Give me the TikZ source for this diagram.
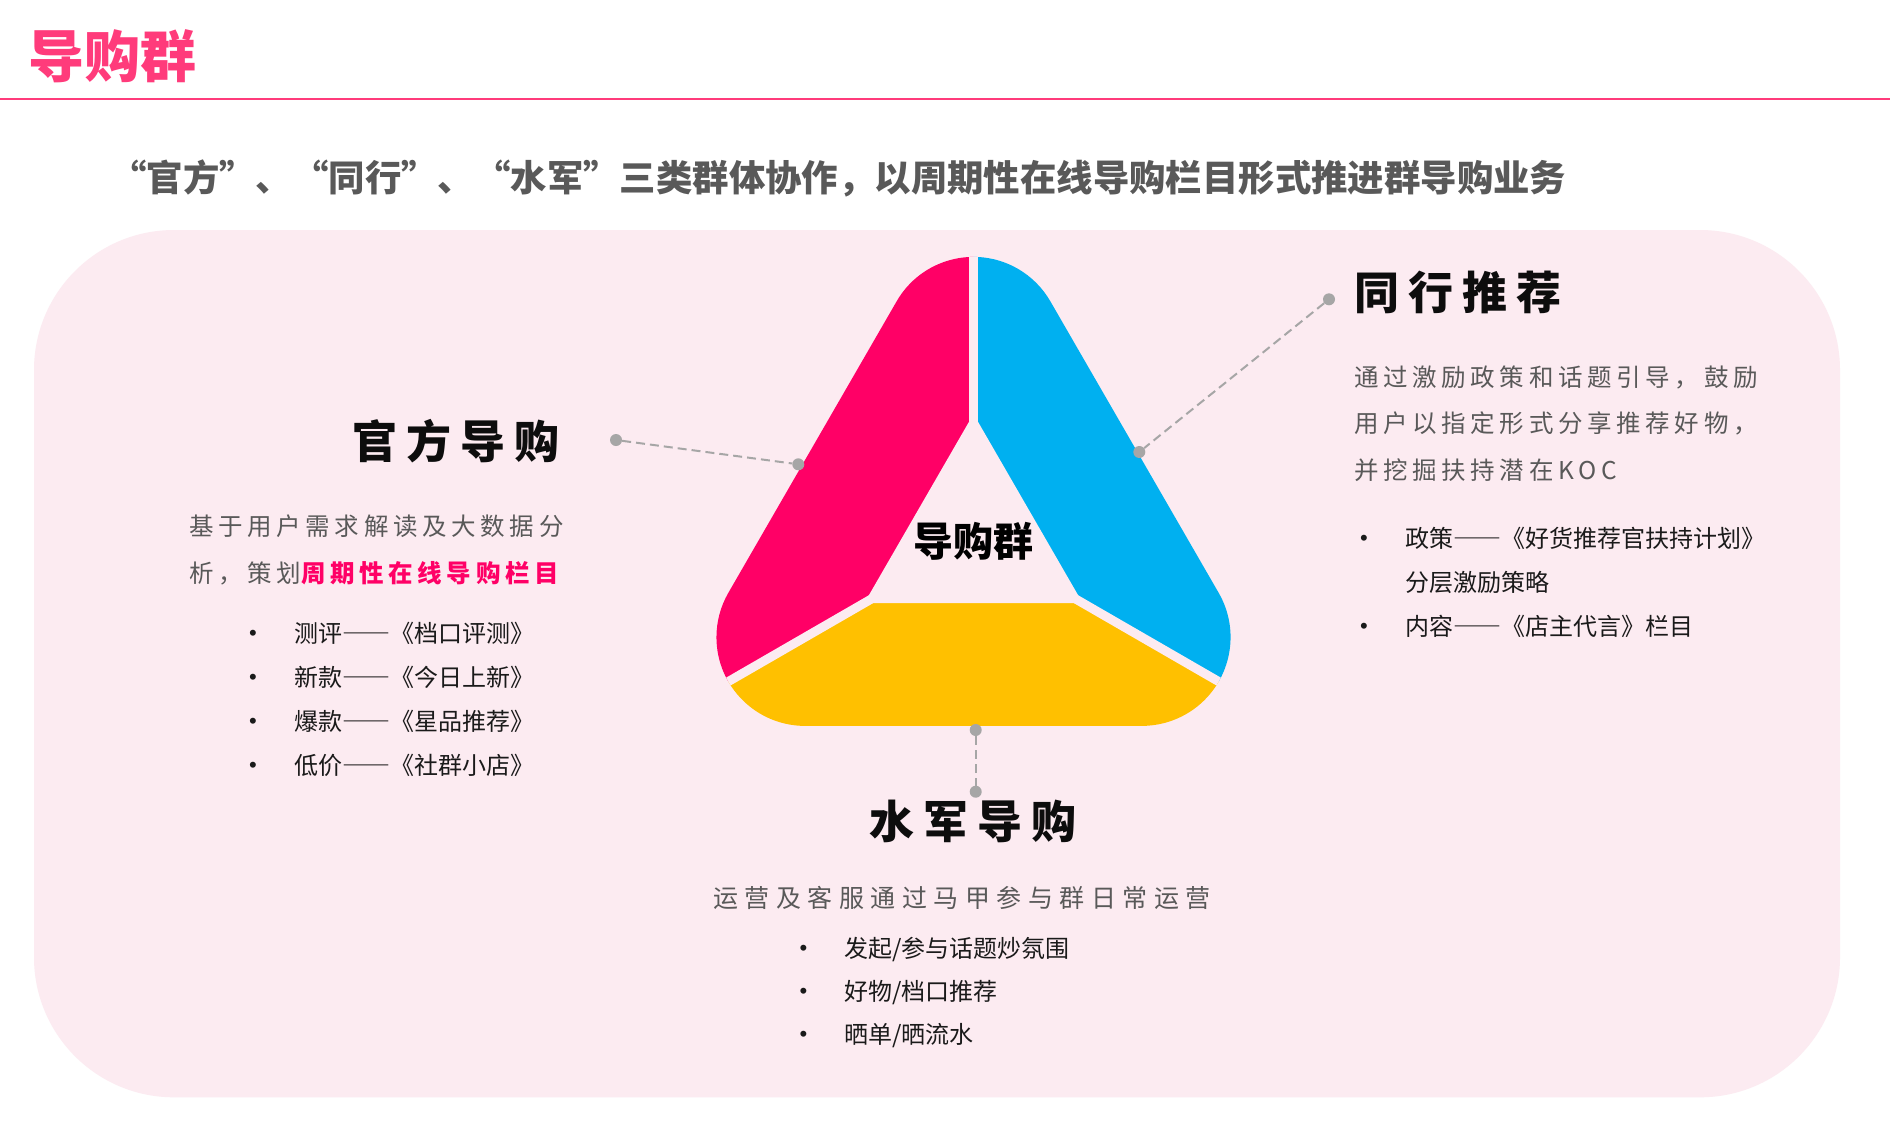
\documentclass[tikz,border=0pt]{standalone}
\usepackage{fontspec}
\setmainfont{Noto Sans CJK SC}
\newfontfamily\spacedfont[LetterSpace=19]{Noto Sans CJK SC}
\newfontfamily\widefont[LetterSpace=26]{Noto Sans CJK SC}
\newfontfamily\headfont[LetterSpace=20]{Noto Sans CJK SC}
\newfontfamily\bulletfont{Liberation Sans}
\usetikzlibrary{positioning, calc}

\definecolor{titlepink}{HTML}{FF3B7B}
\definecolor{bgpink}{HTML}{FCEBF1}
\definecolor{piecepink}{HTML}{FF0066}
\definecolor{pieceblue}{HTML}{00B0F0}
\definecolor{pieceyellow}{HTML}{FFC000}
\definecolor{leadergray}{HTML}{A6A6A6}
\definecolor{bodygray}{HTML}{595959}
\definecolor{headblack}{HTML}{0D0D0D}
\definecolor{itemblack}{HTML}{1A1A1A}

\newcommand{\blt}{\makebox[45pt][l]{\raisebox{2pt}{\fontsize{22}{22}\bulletfont •}}}

\begin{document}
\begin{tikzpicture}[
    x=1pt, y=-1pt,
    pagetitle/.style={anchor=west, inner sep=0pt, text=titlepink, font=\fontsize{56}{60}\selectfont\bfseries},
    subtitle/.style={anchor=west, inner sep=0pt, text=bodygray, font=\fontsize{36.4}{40}\selectfont\bfseries},
    headtext/.style={inner sep=0pt, text=headblack, font=\fontsize{45}{50}\headfont\bfseries, text height=39.6pt, text depth=5.4pt},
    hubtext/.style={inner sep=0pt, text=black, font=\fontsize{40}{44}\selectfont\bfseries, text height=35.2pt, text depth=4.8pt},
    paratext/.style={anchor=west, inner sep=0pt, text=bodygray, font=\fontsize{24.5}{30}\spacedfont, text height=21.6pt, text depth=2.9pt},
    listitem/.style={anchor=west, inner sep=0pt, text=itemblack, font=\fontsize{24}{28}\selectfont, text height=21.1pt, text depth=2.9pt},
    leaderdot/.style={circle, fill=leadergray, minimum size=12pt, inner sep=0pt},
    leader/.style={draw=leadergray, line width=2pt, dash pattern=on 9pt off 5pt},
    gapline/.style={draw=bgpink, line width=9pt}
]

% Page
\fill[white] (0,0) rectangle (1890,1120);
\useasboundingbox (0,0) rectangle (1890,1120);

% Title
\node[pagetitle] (title) at (28,56) {导购群};
\draw[titlepink, line width=2.5pt] (0,99) -- (1890,99);
\node[subtitle] (lead) at (110,178) {“官方”、“同行”、“水军”三类群体协作，以周期性在线导购栏目形式推进群导购业务};

% Panel
\fill[bgpink, rounded corners=140pt] (34,230) rectangle (1840,1097.3);

% Triangle
\coordinate (ctr) at (973.5,540);
\coordinate (ca) at ($(ctr)+(270:194.4)$);
\coordinate (cb) at ($(ctr)+(30:194.4)$);
\coordinate (cc) at ($(ctr)+(150:194.4)$);
\begin{scope}
  \clip ($(ca)+(210:88.7)$) arc[start angle=210, end angle=330, radius=88.7]
    -- ($(cb)+(330:88.7)$) arc[start angle=-30, end angle=90, radius=88.7]
    -- ($(cc)+(90:88.7)$) arc[start angle=90, end angle=210, radius=88.7] -- cycle;
  \fill[piecepink] (ctr) -- +(270:500) -- +(210:700) -- +(150:500) -- cycle;
  \fill[pieceblue] (ctr) -- +(270:500) -- +(330:700) -- +(30:500) -- cycle;
  \fill[pieceyellow] (ctr) -- +(30:500) -- +(90:700) -- +(150:500) -- cycle;
  \draw[gapline] (ctr) -- +(270:500);
  \draw[gapline] (ctr) -- +(30:500);
  \draw[gapline] (ctr) -- +(150:500);
\end{scope}
\fill[bgpink] ($(ctr)+(270:126)$) -- ($(ctr)+(30:126)$) -- ($(ctr)+(150:126)$) -- cycle;
\node[hubtext] (hub) at (973.5,541.7) {导购群};

% Leaders
\node[leaderdot] (gfdot) at (616,440) {};
\node[leaderdot] (gfpin) at (798.3,464.3) {};
\draw[leader] (gfdot) -- (gfpin);
\node[leaderdot] (txdot) at (1329,299.3) {};
\node[leaderdot] (txpin) at (1139.3,452) {};
\draw[leader] (txdot) -- (txpin);
\node[leaderdot] (sjpin) at (975.7,730) {};
\node[leaderdot] (sjdot) at (975.7,791.7) {};
\draw[leader] (sjpin) -- (sjdot);

% Official
\node[headtext, anchor=east] (gfhead) at (560,441.7) {官方导购};
\node[paratext] (gfp1) at (189,525.7) {基于用户需求解读及大数据分};
\node[paratext, below=22.3pt of gfp1.south west, anchor=north west] (gfp2) {析，策划{\bfseries\color{piecepink}周期性在线导购栏目}};
\node[listitem] (gfi1) at (249,633.3) {\blt 测评――《档口评测》};
\node[listitem, below=19.6pt of gfi1.south west, anchor=north west] (gfi2) {\blt 新款――《今日上新》};
\node[listitem, below=19.6pt of gfi2.south west, anchor=north west] (gfi3) {\blt 爆款――《星品推荐》};
\node[listitem, below=19.6pt of gfi3.south west, anchor=north west] (gfi4) {\blt 低价――《社群小店》};

% Peers
\node[headtext, anchor=west] (txhead) at (1354,292.5) {同行推荐};
\node[paratext] (txp1) at (1354,376.7) {通过激励政策和话题引导，鼓励};
\node[paratext, below=22pt of txp1.south west, anchor=north west] (txp2) {用户以指定形式分享推荐好物，};
\node[paratext, below=22pt of txp2.south west, anchor=north west] (txp3) {并挖掘扶持潜在KOC};
\node[listitem] (txi1) at (1360,538.3) {\blt 政策――《好货推荐官扶持计划》};
\node[listitem, below=19.4pt of txi1.south west, anchor=north west, xshift=45pt] (txi1b) {分层激励策略};
\node[listitem, below=20.3pt of txi1b.south west, anchor=north west, xshift=-45pt] (txi2) {\blt 内容――《店主代言》栏目};

% Shills
\node[headtext] (sjhead) at (972.5,821) {水军导购};
\node[paratext, font=\fontsize{25}{30}\widefont] (sjp) at (713,898) {运营及客服通过马甲参与群日常运营};
\node[listitem] (sji1) at (799.3,948.3) {\blt 发起/参与话题炒氛围};
\node[listitem, below=18.5pt of sji1.south west, anchor=north west] (sji2) {\blt 好物/档口推荐};
\node[listitem, below=18.5pt of sji2.south west, anchor=north west] (sji3) {\blt 晒单/晒流水};

\end{tikzpicture}
\end{document}
